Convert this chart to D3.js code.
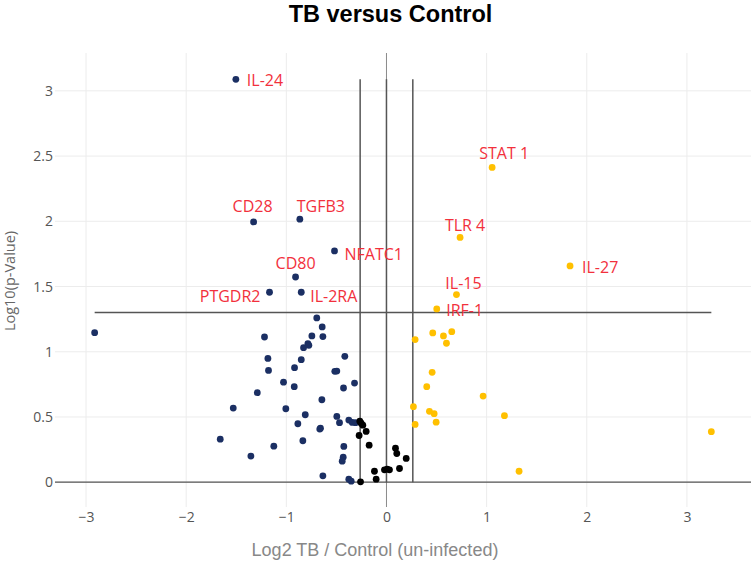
<!DOCTYPE html>
<html>
<head>
<meta charset="utf-8">
<script src="https://cdn.jsdelivr.net/npm/d3@7"></script>
<style>
  html, body { margin: 0; padding: 0; background: #fff; }
  svg { display: block; }
</style>
</head>
<body>
<svg id="chart" width="751" height="561"></svg>
<script>
// ---------- data ----------
const xTicks = [-3, -2, -1, 0, 1, 2, 3];
const yTicks = [0, 0.5, 1, 1.5, 2, 2.5, 3];
const yTickLabels = ["0", "0.5", "1", "1.5", "2", "2.5", "3"];

// labelled genes
const labelNames = ["IL-24", "CD28", "TGFB3", "NFATC1", "CD80", "PTGDR2", "IL-2RA", "STAT 1", "TLR 4", "IL-27", "IL-15", "IRF-1"];
const labelX     = [-1.504, -1.327, -0.865, -0.519, -0.908, -1.168, -0.851, 1.055, 0.735, 1.833, 0.699, 0.502];
const labelY     = [3.088, 1.995, 2.016, 1.773, 1.573, 1.456, 1.456, 2.413, 1.876, 1.658, 1.438, 1.328];
const labelGroup = ["down", "down", "down", "down", "down", "down", "down", "up", "up", "up", "up", "up"];

// down-regulated (blue)
const downX = [-2.914, -0.696, -0.642, -0.635, -0.745, -1.218, -0.785, -0.828, -0.775, -1.184, -0.416, -0.851,
  -1.178, -0.918, -0.516, -0.496, -0.429, -0.319, -1.028, -0.921, -1.290, -0.645, -1.530, -1.005, -0.811,
  -0.496, -0.469, -0.376, -0.342, -0.309, -0.426, -0.432, -0.442, -0.376, -0.352, -0.885, -0.659, -0.666,
  -1.660, -1.125, -0.835, -1.354, -0.635];
const downY = [1.146, 1.259, 1.190, 1.116, 1.121, 1.113, 1.062, 1.031, 1.049, 0.949, 0.965, 0.939,
  0.857, 0.878, 0.850, 0.852, 0.722, 0.760, 0.767, 0.732, 0.686, 0.632, 0.568, 0.563, 0.517,
  0.504, 0.456, 0.476, 0.458, 0.456, 0.274, 0.192, 0.161, 0.023, 0.008, 0.448, 0.414, 0.407,
  0.330, 0.276, 0.318, 0.200, 0.049];

// not changed (black)
const nsX = [-0.266, -0.253, -0.236, -0.203, -0.273, -0.173, -0.259, -0.120, -0.103, -0.020, 0.007, 0.030, 0.090, 0.103, 0.130, 0.197];
const nsY = [0.468, 0.452, 0.437, 0.389, 0.358, 0.284, 0.003, 0.084, 0.023, 0.095, 0.100, 0.095, 0.261, 0.220, 0.105, 0.182];

// up-regulated (yellow)
const upX = [0.286, 0.462, 0.569, 0.652, 0.599, 0.456, 0.402, 0.965, 0.269, 0.429, 0.476, 0.496, 0.286, 1.178, 3.244, 1.324];
const upY = [1.093, 1.144, 1.121, 1.154, 1.065, 0.842, 0.732, 0.660, 0.579, 0.543, 0.525, 0.460, 0.443, 0.510, 0.387, 0.084];

// thresholds
const pThreshold = 1.3;          // -log10(0.05)
const fcThreshold = 0.263;       // log2(1.2)

// ---------- layout ----------
const W = 751, H = 561;
const m = { left: 55, right: 751, top: 53, bottom: 507 };
const colors = { down: "#1b2f63", up: "#ffc000", ns: "#000000", label: "#f2303c" };
// label placement: [anchor, dx, dy]
const labelPlace = {
  "IL-24": ["start", 11, 7], "CD28": ["middle", -1, -9.5], "TGFB3": ["middle", 21, -7],
  "NFATC1": ["start", 10, 9], "CD80": ["middle", 0, -7.5], "PTGDR2": ["end", -9, 10],
  "IL-2RA": ["start", 9, 10], "STAT 1": ["middle", 12, -8], "TLR 4": ["middle", 5, -6],
  "IL-27": ["start", 12, 7], "IL-15": ["middle", 7, -6], "IRF-1": ["start", 9.5, 7]
};

const svg = d3.select("#chart");
const x = d3.scaleLinear().domain([-3.31, 3.64]).range([m.left, m.right]);
const y = d3.scaleLinear().domain([-0.19, 3.29]).range([m.bottom, m.top]);

// grid
svg.append("g").selectAll("line").data(xTicks).join("line")
  .attr("x1", d => x(d)).attr("x2", d => x(d)).attr("y1", m.top).attr("y2", m.bottom)
  .attr("stroke", "#ececec").attr("stroke-width", 1);
svg.append("g").selectAll("line").data(yTicks).join("line")
  .attr("y1", d => y(d)).attr("y2", d => y(d)).attr("x1", m.left).attr("x2", m.right)
  .attr("stroke", "#ececec").attr("stroke-width", 1);

// zero lines
svg.append("line").attr("x1", x(0)).attr("x2", x(0)).attr("y1", m.top).attr("y2", m.bottom)
  .attr("stroke", "#8a8a8a").attr("stroke-width", 1);
svg.append("line").attr("x1", m.left).attr("x2", m.right).attr("y1", y(0)).attr("y2", y(0))
  .attr("stroke", "#555").attr("stroke-width", 1.2);

// axes (labels only)
const xAxis = d3.axisBottom(x).tickValues(xTicks).tickSize(0).tickFormat(d => d < 0 ? "\u2212" + Math.abs(d) : String(d));
const gx = svg.append("g").attr("transform", `translate(0,${m.bottom})`).call(xAxis);
gx.select(".domain").remove();
gx.selectAll("text").attr("dy", "0.71em").attr("y", 5)
  .attr("font-family", "'Open Sans', sans-serif").attr("font-size", 14).attr("fill", "#555");

const yAxis = d3.axisLeft(y).tickValues(yTicks).tickSize(0).tickFormat((d, i) => yTickLabels[i]);
const gy = svg.append("g").attr("transform", `translate(${m.left - 2},0)`).call(yAxis);
gy.select(".domain").remove();
gy.selectAll("text").attr("x", 0)
  .attr("font-family", "'Open Sans', sans-serif").attr("font-size", 14).attr("fill", "#555");

// threshold lines
const allX = [].concat(labelX, downX, nsX, upX);
const allY = [].concat(labelY, downY, nsY, upY);
const xMin = d3.min(allX), xMax = d3.max(allX), yMax = d3.max(allY);
const thr = svg.append("g").attr("stroke", "#555").attr("stroke-width", 1.5);
thr.append("line").attr("x1", x(xMin)).attr("x2", x(xMax)).attr("y1", y(pThreshold)).attr("y2", y(pThreshold));
[-fcThreshold, 0, fcThreshold].forEach(v => {
  thr.append("line").attr("x1", x(v)).attr("x2", x(v)).attr("y1", y(0)).attr("y2", y(yMax));
});

// points
function drawPts(xs, ys, color) {
  svg.append("g").selectAll("circle").data(xs.map((v, i) => [v, ys[i]])).join("circle")
    .attr("cx", d => x(d[0])).attr("cy", d => y(d[1])).attr("r", 3.4).attr("fill", color);
}
drawPts(downX, downY, colors.down);
drawPts(upX, upY, colors.up);
drawPts(nsX, nsY, colors.ns);
svg.append("g").selectAll("circle").data(labelNames).join("circle")
  .attr("cx", (d, i) => x(labelX[i])).attr("cy", (d, i) => y(labelY[i])).attr("r", 3.4)
  .attr("fill", (d, i) => colors[labelGroup[i]]);

// labels
svg.append("g").selectAll("text").data(labelNames).join("text")
  .attr("x", (d, i) => x(labelX[i]) + labelPlace[d][1])
  .attr("y", (d, i) => y(labelY[i]) + labelPlace[d][2])
  .attr("text-anchor", d => labelPlace[d][0])
  .attr("font-family", "'Open Sans', sans-serif").attr("font-size", 16)
  .attr("fill", colors.label).text(d => d);

// titles
svg.append("text").attr("x", 390.5).attr("y", 22).attr("text-anchor", "middle")
  .attr("font-family", "'Liberation Sans', Arial, sans-serif").attr("font-weight", "bold")
  .attr("font-size", 23.5).attr("fill", "#000").text("TB versus Control");
svg.append("text").attr("x", 375).attr("y", 556).attr("text-anchor", "middle")
  .attr("font-family", "'Liberation Sans', Arial, sans-serif").attr("font-size", 18).attr("fill", "#888")
  .text("Log2 TB / Control (un-infected)");
svg.append("text").attr("transform", "translate(15,281) rotate(-90)").attr("text-anchor", "middle")
  .attr("font-family", "'Open Sans', sans-serif").attr("font-size", 14.5).attr("fill", "#666")
  .text("Log10(p-Value)");
</script>
</body>
</html>
